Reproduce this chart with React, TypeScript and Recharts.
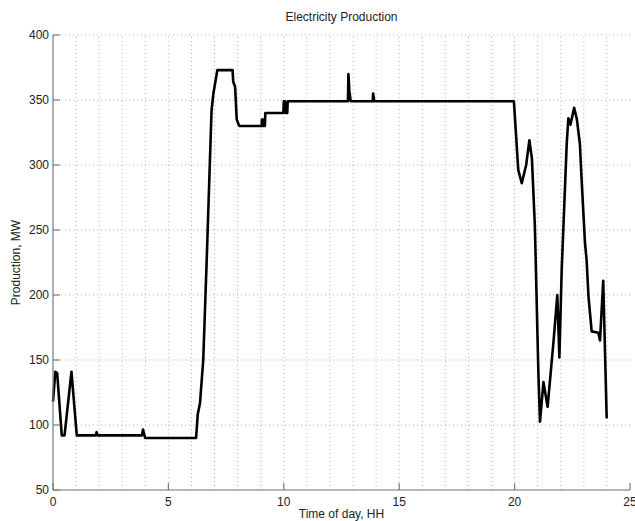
import React from 'react';
import { LineChart, Line, XAxis, YAxis, CartesianGrid, ReferenceLine } from 'recharts';

const hours = [
  0, 0.1, 0.18, 0.38, 0.5, 0.8, 1.03, 1.85, 1.89, 1.93, 3.85, 3.9, 3.99,
  6.2, 6.27, 6.37, 6.51, 6.66, 6.8, 6.87, 6.95, 7.12, 7.78, 7.81, 7.89, 7.96, 8.07,
  9.04, 9.05, 9.1, 9.12, 9.18, 9.2, 9.98, 10.0, 10.05, 10.08, 10.15, 10.17,
  12.78, 12.8, 12.84, 12.9, 13.85, 13.87, 13.92, 19.97,
  20.02, 20.16, 20.31, 20.5, 20.64, 20.75, 20.88, 21.03, 21.1, 21.25, 21.43, 21.68,
  21.85, 21.94, 22.04, 22.26, 22.33, 22.42, 22.58, 22.7, 22.83, 22.9, 23.05, 23.12,
  23.2, 23.34, 23.63, 23.7, 23.84, 23.99,
];

const production = [
  118, 141, 140, 92, 92, 141, 92, 92, 94.5, 92, 92, 96.5, 90,
  90, 108, 117, 150, 227, 304, 342, 355, 373, 373, 364, 360, 335, 330,
  330, 335, 335, 330, 330, 340, 340, 349, 349, 340, 340, 349,
  349, 370, 357, 349, 349, 355, 349, 349,
  335, 296, 286, 300, 319, 305, 252, 140, 102.5, 133, 114, 163,
  200, 152, 219, 317, 336, 331, 344, 335, 316, 290, 240, 227,
  199, 172, 171, 165, 211, 105,
];

const xTicks = [0, 5, 10, 15, 20, 25];
const yTicks = [50, 100, 150, 200, 250, 300, 350, 400];
const gridHours = [1, 2, 3, 4, 5, 6, 7, 8, 9, 10, 11, 12, 13, 14, 15, 16, 17, 18, 19, 20, 21, 22, 23, 24];

const data = hours.map((h, i) => ({ hour: h, mw: production[i] }));

const FONT = '"Liberation Sans", Arial, Helvetica, sans-serif';
const AXIS = '#7a7a7a';
const TEXT = '#222';
const GRID = '#b4b4b4';

export default function App() {
  return (
    <div style={{ position: 'absolute', left: 0, top: 0, width: 635, height: 521, background: '#fff', fontFamily: FONT }}>
      <div
        style={{
          position: 'absolute',
          left: 53,
          top: 10,
          width: 577,
          textAlign: 'center',
          fontSize: 12,
          lineHeight: '14px',
          color: TEXT,
          fontFamily: FONT,
        }}
      >
        Electricity Production
      </div>
      <LineChart width={635} height={521} data={data} margin={{ top: 35, right: 5, bottom: 1, left: 0 }}>
        <CartesianGrid vertical={false} stroke={GRID} strokeDasharray="1 3" />
        {gridHours.map((h) => (
          <ReferenceLine key={h} x={h} stroke={GRID} strokeDasharray="1 3" />
        ))}
        <XAxis
          dataKey="hour"
          type="number"
          domain={[0, 25]}
          ticks={xTicks}
          interval={0}
          height={30}
          tickSize={-7}
          tickMargin={14}
          axisLine={{ stroke: AXIS, strokeWidth: 1.2 }}
          tickLine={{ stroke: AXIS, strokeWidth: 1.2 }}
          tick={{ fill: TEXT, fontSize: 12, fontFamily: FONT }}
          label={{ value: 'Time of day, HH', position: 'insideBottom', offset: 2, fill: TEXT, fontSize: 12, fontFamily: FONT }}
        />
        <XAxis
          xAxisId="top"
          orientation="top"
          type="number"
          domain={[0, 25]}
          ticks={xTicks}
          interval={0}
          height={0}
          tick={false}
          tickSize={-7}
          axisLine={{ stroke: AXIS, strokeWidth: 1.2 }}
          tickLine={{ stroke: AXIS, strokeWidth: 1.2 }}
        />
        <YAxis
          type="number"
          domain={[50, 400]}
          ticks={yTicks}
          interval={0}
          width={53}
          tickSize={-7}
          tickMargin={11}
          axisLine={{ stroke: AXIS, strokeWidth: 1.2 }}
          tickLine={{ stroke: AXIS, strokeWidth: 1.2 }}
          tick={{ fill: TEXT, fontSize: 12, fontFamily: FONT }}
          label={{ value: 'Production, MW', angle: -90, position: 'center', dx: -10.5, fill: TEXT, fontSize: 12, fontFamily: FONT }}
        />
        <YAxis
          yAxisId="right"
          orientation="right"
          type="number"
          domain={[50, 400]}
          ticks={yTicks}
          interval={0}
          width={0}
          tick={false}
          tickSize={-7}
          axisLine={{ stroke: AXIS, strokeWidth: 1.2 }}
          tickLine={{ stroke: AXIS, strokeWidth: 1.2 }}
        />
        <Line
          type="linear"
          dataKey="mw"
          stroke="#000"
          strokeWidth={2.6}
          dot={false}
          strokeLinejoin="round"
          isAnimationActive={false}
        />
      </LineChart>
    </div>
  );
}
